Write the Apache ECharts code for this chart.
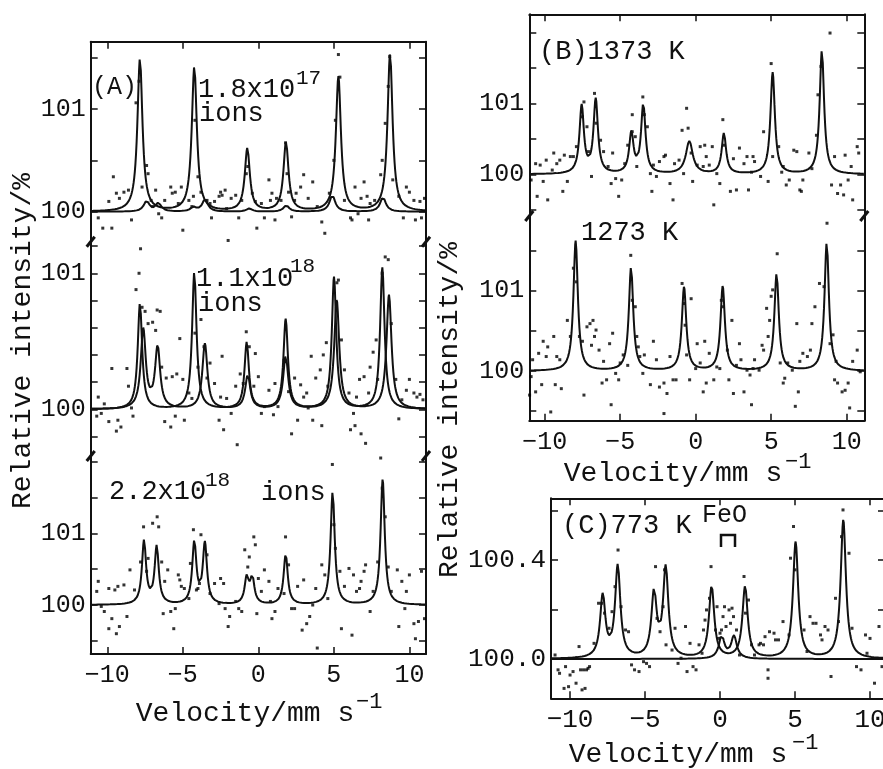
<!DOCTYPE html>
<html>
<head>
<meta charset="utf-8">
<script src="https://cdn.jsdelivr.net/npm/echarts@6/dist/echarts.min.js"></script>
<style>
html, body { margin: 0; padding: 0; background: #fff; }
#chart { width: 883px; height: 769px; }
</style>
</head>
<body>
<div id="chart"></div>
<script>
const FONT = '"Liberation Mono", "DejaVu Sans Mono", monospace'
const xTicks = [-10, -5, 0, 5, 10]

// fitted lines: [velocity mm/s, height above 100 %, optional FWHM]
const peaksA1a = [[-7.84, 1.49], [-4.24, 1.41], [-0.73, 0.61], [1.83, 0.67], [5.30, 1.31], [8.72, 1.54]]
const peaksA1b = [[-7.4, 0.10], [-6.62, 0.08], [-4.3, 0.04], [-3.53, 0.12], [-0.6, 0.03], [1.85, 0.06], [4.9, 0.16], [8.25, 0.14]]
const peaksA2a = [[-7.84, 0.78], [-4.24, 1.01], [-0.77, 0.49], [1.81, 0.66], [5.01, 0.97], [8.21, 1.04]]
const peaksA2b = [[-7.62, 0.58], [-6.67, 0.45], [-3.54, 0.48], [-0.7, 0.25], [1.81, 0.39], [5.19, 0.80], [8.65, 0.84]]
const peaksA3 = [[-7.57, 0.88], [-6.73, 0.80], [-4.24, 0.86], [-3.54, 0.84], [-0.77, 0.36], [-0.40, 0.36], [1.81, 0.70], [4.92, 1.58], [8.23, 1.75]]
const peaksB1 = [[-7.55, 0.95], [-6.62, 1.04], [-4.26, 0.56], [-3.47, 0.97], [-0.42, 0.46, 0.55], [1.87, 0.57], [5.10, 1.43], [8.36, 1.75]]
const peaksB2 = [[-7.95, 1.62], [-4.28, 1.29], [-0.77, 1.04], [1.79, 1.05], [5.36, 1.21], [8.68, 1.60]]
const peaksC = [[-7.82, 0.25], [-6.82, 0.37], [-4.40, 0.26], [-3.62, 0.36], [-0.56, 0.29], [1.67, 0.29], [5.04, 0.47], [8.22, 0.56]]
const peaksCFeO = [[0.11, 0.09], [0.93, 0.09]]

// measured points [velocity, relative intensity %]
const dotsA1 = [[-10.6,99.94],[-10.3,99.84],[-9.9,100.10],[-9.7,99.84],[-9.6,100.34],[-9.4,100.18],[-9.2,100.13],[-8.9,100.19],[-8.6,100.21],[-8.4,99.92],[-8.1,101.06],[-7.9,101.27],[-7.7,100.24],[-7.4,100.45],[-7.3,100.37],[-7.1,100.11],[-7.0,100.05],[-6.8,100.21],[-6.6,99.98],[-6.4,99.94],[-6.2,100.11],[-5.8,100.24],[-5.7,100.18],[-5.5,100.19],[-5.3,100.08],[-5.1,100.24],[-5.0,99.82],[-4.6,100.11],[-4.4,100.05],[-4.3,100.15],[-4.2,100.89],[-4.0,100.34],[-3.8,100.19],[-3.4,100.11],[-3.2,100.08],[-3.1,99.94],[-2.9,100.10],[-2.6,100.15],[-2.5,100.19],[-2.4,100.16],[-2.2,100.21],[-2.1,100.03],[-2.0,99.72],[-1.8,100.13],[-1.5,100.16],[-1.3,99.94],[-1.1,100.11],[-0.8,100.37],[-0.7,100.44],[-0.4,100.18],[-0.2,100.10],[-0.1,99.84],[0.2,100.08],[0.4,99.94],[0.7,100.31],[0.8,100.11],[0.9,100.18],[1.1,99.92],[1.2,100.13],[1.5,100.11],[1.8,100.67],[1.9,100.37],[2.0,100.19],[2.2,99.95],[2.4,100.11],[2.5,100.18],[2.8,100.24],[3.0,100.36],[3.3,100.13],[3.6,100.29],[3.9,100.05],[4.2,99.90],[4.4,99.79],[4.7,100.18],[5.0,100.50],[5.1,100.89],[5.3,101.53],[5.4,101.31],[5.7,100.11],[6.1,99.94],[6.2,99.92],[6.4,100.24],[6.6,99.98],[6.8,100.13],[7.0,100.29],[7.2,100.15],[7.3,99.92],[7.4,100.08],[7.7,100.11],[8.1,100.36],[8.2,100.50],[8.4,100.86],[8.6,101.22],[8.7,101.51],[8.9,100.31],[9.3,100.15],[9.6,99.94],[9.8,100.24],[10.0,100.19],[10.3,100.11],[10.4,99.92],[10.7,100.10],[10.8,99.94],[11.0,100.13]]
const dotsA2 = [[-10.7,99.95],[-10.6,100.09],[-10.4,99.97],[-10.2,100.04],[-9.9,99.91],[-9.7,100.30],[-9.4,99.84],[-9.3,99.92],[-9.1,99.87],[-8.7,100.30],[-8.6,100.17],[-8.4,100.01],[-8.3,99.95],[-8.1,100.88],[-7.9,101.00],[-7.8,101.18],[-7.7,100.75],[-7.5,100.72],[-7.3,100.63],[-7.0,100.64],[-6.8,100.58],[-6.7,100.73],[-6.5,100.72],[-6.4,100.31],[-6.2,99.91],[-6.1,100.23],[-5.8,99.87],[-5.7,100.24],[-5.5,99.95],[-5.4,100.26],[-5.2,100.52],[-5.0,100.22],[-4.9,99.92],[-4.6,100.12],[-4.4,100.08],[-4.2,100.56],[-4.0,100.31],[-3.8,100.66],[-3.6,100.46],[-3.4,100.23],[-3.2,100.34],[-2.9,100.19],[-2.6,99.92],[-2.5,100.09],[-2.4,100.39],[-2.3,99.85],[-2.1,100.08],[-1.8,99.97],[-1.5,100.17],[-1.4,99.74],[-1.2,100.26],[-1.0,100.19],[-0.8,100.57],[-0.6,100.46],[-0.3,100.17],[-0.2,100.41],[0.0,100.24],[0.2,99.97],[0.4,100.02],[0.7,100.14],[1.0,99.96],[1.1,100.19],[1.3,100.02],[1.7,100.36],[2.0,100.13],[2.2,99.82],[2.4,100.23],[2.6,99.92],[2.8,100.18],[3.0,100.09],[3.2,100.12],[3.3,100.01],[3.5,100.39],[3.6,99.92],[3.8,100.23],[4.1,100.29],[4.2,99.88],[4.3,100.40],[4.5,100.49],[4.6,100.17],[5.2,100.93],[5.3,100.95],[5.5,100.51],[5.7,100.29],[6.0,100.12],[6.1,99.85],[6.3,99.97],[6.4,99.88],[6.5,100.09],[6.7,100.22],[6.8,99.82],[7.0,100.24],[7.1,99.75],[7.3,100.12],[7.4,100.31],[7.6,100.42],[7.8,100.51],[7.9,100.22],[8.2,101.00],[8.4,101.12],[8.6,101.10],[8.8,100.63],[9.1,100.22],[9.3,99.93],[9.5,100.07],[9.8,100.14],[10.0,100.22],[10.3,100.12],[10.5,100.09],[10.7,100.11],[10.9,100.07]]
const dotsA3 = [[-10.7,100.19],[-10.6,100.33],[-10.4,99.98],[-10.2,99.91],[-9.9,100.23],[-9.9,99.67],[-9.7,99.81],[-9.5,100.21],[-9.4,99.60],[-9.3,100.26],[-9.2,99.70],[-8.9,100.28],[-8.7,99.84],[-8.5,100.49],[-8.2,100.21],[-7.8,100.60],[-7.6,101.09],[-7.4,100.47],[-7.3,100.65],[-7.0,101.14],[-6.7,101.23],[-6.6,101.09],[-6.4,100.60],[-6.3,99.88],[-6.2,100.33],[-6.0,100.49],[-5.8,99.91],[-5.6,99.67],[-5.5,99.95],[-5.3,100.42],[-5.2,100.35],[-5.1,100.26],[-4.9,100.23],[-4.6,100.09],[-4.5,100.58],[-4.3,101.05],[-4.1,100.21],[-4.0,100.23],[-3.9,100.30],[-3.8,100.98],[-3.4,100.70],[-3.2,100.16],[-2.9,100.30],[-2.6,100.02],[-2.5,100.37],[-2.3,100.30],[-2.2,99.95],[-2.0,99.70],[-1.9,99.84],[-1.5,100.05],[-1.3,99.95],[-1.1,99.91],[-0.9,100.77],[-0.7,100.53],[-0.6,100.67],[-0.3,100.95],[-0.2,100.84],[-0.1,99.88],[0.0,100.37],[0.2,100.19],[0.4,100.49],[0.7,100.33],[0.8,100.05],[0.9,99.81],[1.1,99.91],[1.3,100.23],[1.7,100.16],[1.8,100.95],[2.0,100.56],[2.2,99.95],[2.4,99.95],[2.6,100.26],[2.9,99.65],[3.0,100.35],[3.2,99.74],[3.4,99.84],[3.6,100.00],[3.8,100.23],[3.9,99.40],[4.2,100.56],[4.4,100.42],[4.6,100.09],[4.9,101.96],[5.0,101.12],[5.1,100.79],[5.4,100.47],[5.5,99.67],[5.7,100.26],[6.0,100.51],[6.2,99.58],[6.3,100.42],[6.5,100.19],[6.7,100.23],[6.8,100.33],[7.0,100.47],[7.1,100.56],[7.4,99.91],[7.6,100.19],[7.9,100.60],[8.1,102.05],[8.2,101.63],[8.4,101.23],[8.6,100.53],[8.8,100.19],[9.2,100.49],[9.3,99.70],[9.5,100.33],[9.7,99.95],[9.8,100.19],[10.0,100.42],[10.3,99.74],[10.4,99.53],[10.6,99.77],[10.8,100.47],[11.0,99.81]]
const dotsB1 = [[-10.9,99.92],[-10.6,100.15],[-10.5,99.69],[-10.3,100.13],[-10.1,99.90],[-9.9,100.20],[-9.8,99.64],[-9.5,100.06],[-9.4,100.30],[-9.2,100.15],[-9.0,100.20],[-8.8,99.76],[-8.7,100.27],[-8.5,99.90],[-8.3,100.25],[-8.1,100.25],[-7.9,100.39],[-7.5,100.81],[-7.4,101.02],[-7.2,100.67],[-7.1,100.32],[-6.9,99.97],[-6.7,101.14],[-6.6,100.72],[-6.3,100.48],[-6.1,100.32],[-5.8,100.11],[-5.6,99.87],[-5.5,100.30],[-5.3,99.94],[-5.1,99.69],[-4.9,99.92],[-4.7,100.15],[-4.5,100.41],[-4.2,100.84],[-4.2,100.60],[-4.0,100.53],[-3.9,100.11],[-3.5,101.09],[-3.4,100.84],[-3.2,100.67],[-3.0,100.01],[-2.9,99.76],[-2.8,100.13],[-2.6,99.97],[-2.4,100.18],[-2.1,100.25],[-2.0,100.27],[-1.7,99.87],[-1.5,99.64],[-1.4,100.15],[-1.1,100.20],[-0.9,100.62],[-0.8,100.01],[-0.6,100.93],[-0.5,100.65],[-0.3,100.30],[-0.2,99.90],[0.1,100.13],[0.3,100.39],[0.5,100.11],[0.6,100.41],[0.7,100.25],[0.9,100.13],[1.1,100.39],[1.2,99.57],[1.4,100.01],[1.6,99.87],[1.8,100.77],[1.9,100.41],[2.3,99.76],[2.5,100.22],[2.7,99.78],[2.9,100.37],[3.2,100.15],[3.4,100.25],[3.5,99.78],[3.7,100.03],[3.8,100.25],[3.9,100.18],[4.3,99.97],[4.5,100.60],[4.8,99.90],[5.0,101.56],[5.1,100.25],[5.5,100.39],[5.7,100.03],[5.8,100.11],[6.0,99.85],[6.2,99.92],[6.5,100.34],[6.7,100.32],[6.9,99.78],[7.0,99.76],[7.1,99.92],[7.5,100.30],[7.7,100.08],[8.0,100.55],[8.1,101.12],[8.3,101.52],[8.9,101.99],[9.0,99.85],[9.2,100.25],[9.4,99.73],[9.6,99.85],[9.8,99.71],[9.9,100.27],[10.1,99.92],[10.3,100.11],[10.4,99.64],[10.7,100.39],[10.8,100.30]]
const dotsB2 = [[-11.0,99.70],[-10.9,99.93],[-10.8,100.14],[-10.6,99.74],[-10.4,100.22],[-10.2,99.83],[-10.1,100.37],[-9.9,100.18],[-9.8,100.30],[-9.6,99.49],[-9.4,100.43],[-9.3,99.83],[-9.2,100.18],[-9.0,100.14],[-8.9,99.78],[-8.5,100.63],[-8.3,100.43],[-8.1,101.28],[-7.9,101.11],[-7.7,100.43],[-7.5,100.37],[-7.4,99.70],[-7.2,100.55],[-7.0,100.59],[-6.9,100.32],[-6.8,100.63],[-6.7,100.43],[-6.6,100.51],[-6.4,100.26],[-6.2,99.85],[-6.1,100.12],[-5.9,99.89],[-5.7,100.34],[-5.6,99.58],[-5.5,100.47],[-5.3,99.97],[-5.1,99.89],[-5.0,100.10],[-4.8,100.20],[-4.5,100.07],[-4.3,101.44],[-4.2,100.88],[-4.0,100.80],[-3.9,100.43],[-3.8,100.30],[-3.7,100.18],[-3.5,99.97],[-3.4,100.20],[-3.0,99.83],[-2.8,100.37],[-2.6,100.14],[-2.4,99.80],[-2.1,99.85],[-2.1,99.47],[-1.9,99.72],[-1.7,100.18],[-1.5,99.89],[-1.3,99.89],[-0.9,101.09],[-0.8,100.84],[-0.7,100.57],[-0.6,100.20],[-0.4,99.89],[-0.3,100.90],[0.0,100.03],[0.1,100.34],[0.3,100.10],[0.5,99.74],[0.6,100.37],[0.7,99.85],[0.9,100.22],[1.2,99.89],[1.4,100.05],[1.6,100.03],[1.7,100.88],[1.8,100.80],[2.1,100.26],[2.2,99.89],[2.4,100.63],[2.5,99.72],[2.7,100.07],[2.9,100.34],[3.0,100.14],[3.2,99.74],[3.4,100.01],[3.6,99.95],[3.7,99.58],[3.8,100.03],[3.9,100.14],[4.2,100.01],[4.4,100.32],[4.5,100.26],[4.7,100.78],[4.8,100.43],[4.9,100.63],[5.0,100.93],[5.1,101.01],[5.4,101.46],[5.6,100.10],[5.8,99.85],[5.9,99.91],[6.1,100.10],[6.4,100.01],[6.6,99.56],[6.7,100.59],[6.8,99.74],[6.9,100.12],[7.1,100.22],[7.4,100.18],[7.6,100.26],[7.7,100.59],[7.9,100.80],[8.2,101.09],[8.5,101.05],[8.7,101.84],[8.9,100.34],[9.1,100.45],[9.2,99.89],[9.3,100.12],[9.4,99.85],[9.7,99.74],[9.9,99.76],[10.1,99.85],[10.2,99.54],[10.4,100.12],[10.7,100.26],[10.9,99.99]]
const dotsC = [[-11.0,100.016],[-10.8,99.956],[-10.7,99.942],[-10.4,99.881],[-10.3,99.969],[-10.1,99.888],[-10.0,99.935],[-9.8,99.949],[-9.6,99.902],[-9.4,100.050],[-9.3,99.956],[-9.2,99.875],[-9.1,99.956],[-9.0,99.881],[-8.9,99.956],[-8.8,99.962],[-8.7,99.969],[-8.4,100.063],[-8.1,100.225],[-7.9,100.225],[-7.7,100.185],[-7.4,100.124],[-7.2,100.191],[-7.0,100.292],[-6.8,100.440],[-6.6,100.211],[-6.3,100.117],[-6.1,100.110],[-5.9,99.976],[-5.7,99.956],[-5.4,99.949],[-5.1,99.989],[-4.9,99.982],[-4.7,99.969],[-4.3,100.373],[-4.2,100.164],[-4.0,100.110],[-3.8,100.211],[-3.7,100.360],[-3.6,100.057],[-3.2,100.036],[-3.0,100.124],[-2.8,99.982],[-2.6,100.003],[-2.3,100.131],[-2.2,99.949],[-2.0,100.063],[-1.8,99.969],[-1.6,99.956],[-1.4,100.057],[-1.2,100.023],[-1.1,100.117],[-1.0,100.157],[-0.9,100.198],[-0.7,100.245],[-0.6,100.373],[-0.3,100.117],[-0.2,100.211],[-0.1,100.083],[0.0,100.104],[0.1,100.117],[0.2,100.171],[0.3,100.211],[0.4,100.131],[0.6,100.198],[0.7,100.144],[0.8,100.205],[0.9,100.171],[1.1,100.117],[1.3,100.016],[1.6,100.333],[1.7,100.185],[1.9,100.238],[2.1,100.057],[2.3,100.016],[2.6,100.057],[2.7,100.063],[2.9,100.057],[3.0,100.090],[3.2,99.956],[3.2,99.922],[3.3,100.110],[3.6,100.104],[3.7,100.077],[3.9,100.077],[4.2,100.151],[4.6,100.097],[4.7,100.407],[4.9,100.535],[5.0,100.360],[5.6,100.117],[5.8,100.030],[6.0,100.171],[6.2,100.144],[6.4,100.144],[6.7,100.097],[6.8,100.077],[7.0,100.131],[7.2,100.117],[7.4,99.929],[7.7,100.245],[7.9,100.151],[8.1,100.494],[8.2,100.602],[8.6,100.427],[8.8,100.124],[9.1,99.969],[9.4,99.956],[9.7,100.097],[9.8,100.023],[10.0,100.083],[10.3,99.902],[10.6,100.131],[10.8,99.969]]

const yTicksA1 = [100, 100.5, 101, 101.5]
const yTicksA2 = [99.8, 100, 100.2, 100.4, 100.6, 100.8, 101, 101.2]
const yTicksA3 = [99.5, 100, 100.5, 101, 101.5, 102]
const yTicksB1 = [99.5, 100, 100.5, 101, 101.5, 102]
const yTicksB2 = [99.5, 100, 100.5, 101, 101.5]
const yTicksC = [100, 100.2, 100.4, 100.6]
const yLabels = [100, 101]
const yLabelsC = [100, 100.4]

// layout of the six stacked plot boxes
const panels = [
    {box: [90.7, 41.7, 335.3, 200], x: [-11.1, 11.1], y: [99.708, 101.655], ticks: yTicksA1, labels: yLabels, top: true, bottom: false, curves: [peaksA1a, peaksA1b], fwhm: [0.4, 0.45], dots: dotsA1, fs: 25},
    {box: [90.7, 241.7, 335.3, 214.3], x: [-11.1, 11.1], y: [99.657, 101.232], ticks: yTicksA2, labels: yLabels, top: false, bottom: false, curves: [peaksA2a, peaksA2b], fwhm: [0.35, 0.4], dots: dotsA2, fs: 25},
    {box: [90.7, 456, 335.3, 198], x: [-11.1, 11.1], y: [99.317, 102.078], ticks: yTicksA3, labels: yLabels, top: false, bottom: true, curves: [peaksA3], fwhm: [0.33], dots: dotsA3, fs: 25},
    {box: [529.3, 14.3, 335, 201.7], x: [-11.02, 11.17], y: [99.413, 102.254], ticks: yTicksB1, labels: yLabels, top: true, bottom: false, curves: [peaksB1], fwhm: [0.35], dots: dotsB1, fs: 25},
    {box: [529.3, 216, 335, 204.7], x: [-11.02, 11.17], y: [99.381, 101.930], ticks: yTicksB2, labels: yLabels, top: false, bottom: true, curves: [peaksB2], fwhm: [0.35], dots: dotsB2, fs: 25},
    {box: [551, 498.3, 334, 200], x: [-11.27, 11.0], y: [99.841, 100.649], ticks: yTicksC, labels: yLabelsC, top: true, bottom: true, curves: [peaksC, peaksCFeO], fwhm: [0.42, 0.45], dots: dotsC, fs: 26, dec: 1}
]

function fitCurve(peaks, fwhm, range) {
    let xs = []
    for (let v = range[0]; v <= range[1]; v += 0.04) xs.push(v)
    peaks.forEach(p => xs.push(p[0]))
    xs.sort((a, b) => a - b)
    return xs.map(v => {
        let y = 100
        peaks.forEach(([p, a, w]) => {
            let t = 2 * (v - p) / (w || fwhm)
            y += a / (1 + t * t)
        })
        return [v, y]
    })
}

let grid = [], xAxis = [], yAxis = [], series = []
const black = '#111'

panels.forEach((p, i) => {
    grid.push({left: p.box[0], top: p.box[1], width: p.box[2], height: p.box[3], outerBoundsMode: 'none', containLabel: false})
    const line = show => ({show, onZero: false, lineStyle: {color: black, width: 2}})
    const tick = (vals, show) => ({show, inside: true, length: 7, customValues: vals, lineStyle: {color: black, width: 1.5}})
    const lab = (vals, show, margin, fmt) => ({show, customValues: vals, margin, color: black, fontFamily: FONT, fontSize: p.fs, formatter: fmt})
    const fmtX = v => v < 0 ? '\u2212' + (-v) : String(v)
    const fmtY = v => p.dec ? v.toFixed(1) : String(Math.round(v))
    xAxis.push({type: 'value', gridIndex: i, min: p.x[0], max: p.x[1], position: 'bottom',
        axisLine: line(p.bottom), axisTick: tick(xTicks, p.bottom), axisLabel: lab(xTicks, p.bottom, 9, fmtX), splitLine: {show: false}})
    xAxis.push({type: 'value', gridIndex: i, min: p.x[0], max: p.x[1], position: 'top',
        axisLine: line(p.top), axisTick: tick(xTicks, p.top), axisLabel: {show: false}, splitLine: {show: false}})
    yAxis.push({type: 'value', gridIndex: i, min: p.y[0], max: p.y[1], position: 'left',
        axisLine: line(true), axisTick: tick(p.ticks, true), axisLabel: lab(p.labels, true, 5, fmtY), splitLine: {show: false}})
    yAxis.push({type: 'value', gridIndex: i, min: p.y[0], max: p.y[1], position: 'right',
        axisLine: line(true), axisTick: tick(p.ticks, true), axisLabel: {show: false}, splitLine: {show: false}})
    p.curves.forEach((c, k) => {
        series.push({type: 'line', xAxisIndex: 2 * i, yAxisIndex: 2 * i, data: fitCurve(c, p.fwhm[k], p.x),
            showSymbol: false, silent: true, lineStyle: {color: black, width: 2}})
    })
    series.push({type: 'scatter', xAxisIndex: 2 * i, yAxisIndex: 2 * i, data: p.dots, symbol: 'rect', symbolSize: 3,
        itemStyle: {color: '#000'}, silent: true})
})

// break marks on the stacked axes
const breaks = [[90.7, 241.7], [426, 241.7], [90.7, 456], [426, 456], [529.3, 216], [864.3, 216]]
let graphic = breaks.map(([x, y]) => ({type: 'line', shape: {x1: x - 4, y1: y + 5, x2: x + 4, y2: y - 5},
    style: {stroke: black, lineWidth: 3}}))

const notes = [
    ['(A)', 92, 87, 25], ['1.8x10', 198, 90, 27], ['17', 296, 78, 21], ['ions', 199, 114, 27],
    ['1.1x10', 196, 279, 27], ['18', 290, 266, 21], ['ions', 198, 304, 27],
    ['2.2x10', 109, 492, 27], ['18', 205, 480, 21], ['ions', 261, 493, 27],
    ['(B)1373 K', 539, 52, 27], ['1273 K', 581, 233, 27],
    ['(C)773 K', 562, 526, 27], ['FeO', 702, 515, 25],
    ['\u22121', 356, 702, 22], ['\u22121', 785, 462, 22], ['\u22121', 792, 743, 22]
]
notes.forEach(([t, x, y, s]) => graphic.push({type: 'text', x, y,
    style: {text: t, fill: black, font: s + 'px ' + FONT, textAlign: 'left', textVerticalAlign: 'middle'}}))

const titles = [['Velocity/mm s', 245, 714, 0], ['Velocity/mm s', 673, 474, 0], ['Velocity/mm s', 678, 755, 0],
    ['Relative intensity/%', 23, 341, Math.PI / 2], ['Relative intensity/%', 450, 410, Math.PI / 2]]
titles.forEach(([t, x, y, r]) => graphic.push({type: 'text', x, y, rotation: r,
    style: {text: t, fill: black, font: '28px ' + FONT, textAlign: 'center', textVerticalAlign: 'middle'}}))

graphic.push({type: 'polyline', shape: {points: [[721, 547], [721, 535], [735, 535], [735, 547]]},
    style: {stroke: black, lineWidth: 2.5, fill: null}})

let chart = echarts.init(document.getElementById('chart'), null, {renderer: 'canvas'})
chart.setOption({
    animation: false,
    backgroundColor: '#fff',
    grid, xAxis, yAxis, series, graphic
})
</script>
</body>
</html>
